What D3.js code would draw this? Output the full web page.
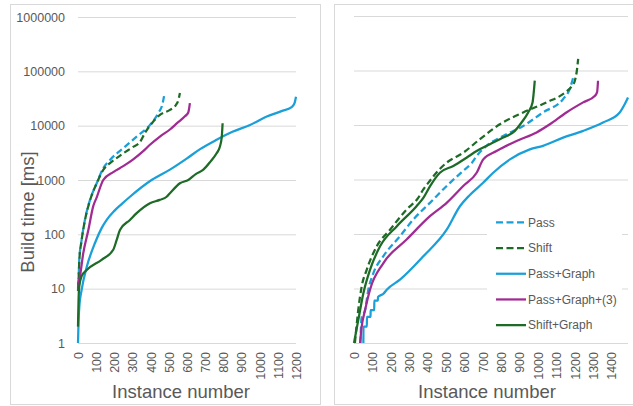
<!DOCTYPE html>
<html>
<head>
<meta charset="utf-8">
<script src="https://cdn.jsdelivr.net/npm/d3@7"></script>
<style>
  body { margin: 0; background: #fff; }
  svg { display: block; font-family: "Liberation Sans", Arial, sans-serif; }
</style>
</head>
<body>
<div id="chart"></div>
<script>
// Data: [instance number, build time ms]
var seriesNames = ["Pass", "Shift", "Pass+Graph", "Pass+Graph+(3)", "Shift+Graph"];

var leftPass = [[0,12],[3,15],[7,34],[20,79],[38,184],[66,430],[103,870],[139,1650],[176,2340],
    [249,3850],[323,6300],[396,10300],[442,17000],[465,25000],[475,37000]];
var leftShift = [[0,10],[3,14],[7,32],[20,78],[38,180],[66,420],[103,870],[139,1530],[176,2040],
    [210,2500],[249,3100],[300,4000],[341,5000],[370,7500],[407,11100],[451,15800],[506,19500],
    [539,24000],[553,30000],[561,40000]];
var leftPassGraph = [[0,1],[3,2.5],[8,5],[20,9.5],[48,25],[94,70],[130,130],[158,185],[200,270],
    [240,360],[286,492],[405,1000],[506,1550],[600,2500],[672,3700],[763,5500],[850,7700],
    [947,10300],[1039,14700],[1120,18500],[1176,22000],[1192,26000],[1200,34000]];
var leftPassGraph3 = [[0,9],[2,12],[11,17],[29,45],[57,120],[84,330],[103,480],[139,1000],
    [194,1400],[249,1800],[304,2400],[359,3400],[396,4450],[451,6300],[506,8500],[545,11100],
    [590,15000],[607,17500],[616,26000]];
var leftShiftGraph = [[0,2],[3,6],[7,11],[20,17],[48,22],[130,34],[194,52],[213,79],[231,120],
    [286,184],[323,245],[396,373],[450,430],[488,492],[506,570],[561,870],[607,1000],[650,1300],
    [690,1550],[730,2200],[763,3100],[780,4000],[791,6000],[796,11100]];

var rightPass = [[35,1],[38,2],[42,3],[60,4],[78,9.5],[105,19],[159,39],[250,91],[322,184],
    [413,373],[504,760],[594,1450],[640,2000],[667,2700],[721,4150],[811,6300],[920,9600],
    [1028,17000],[1137,29900],[1173,45700],[1191,72000]];
var rightShift = [[5,1],[23,4],[42,11],[69,22],[123,59],[196,120],[286,282],[349,460],[377,660],
    [413,950],[449,1350],[504,2040],[594,3100],[685,5500],[793,10300],[920,17000],
    [1047,26000],[1150,40000],[1185,52000],[1201,65000],[1212,100000],[1219,163000]];
var rightPassGraph = [[51,1],[51.5,2],[70,2],[70.5,3],[90,3],[90.5,4],[110,4],[110.5,6],[130,6],
    [130.5,7],[160,8],[178,9.5],[250,14.5],[377,39],[504,120],[576,323],[630,520],[702,870],
    [757,1330],[848,2340],[956,3570],[1028,4150],[1137,5870],[1246,7800],[1354,11100],
    [1445,17000],[1472,24000],[1490,32000]];
var rightPassGraph3 = [[33,1],[42,2],[60,4],[87,9.5],[159,29],[286,79],[413,212],[504,373],
    [594,760],[667,1330],[703,2340],[775,3330],[884,5100],[993,7300],[1065,10300],[1155,17000],
    [1246,26000],[1309,34000],[1322,40000],[1327,65000]];
var rightShiftGraph = [[0,1],[23,2.6],[51,8.2],[87,22],[141,59],[232,138],[340,323],[377,460],
    [413,750],[467,1330],[540,1770],[612,2510],[667,3330],[739,4450],[811,5870],[875,7800],
    [911,11100],[947,17000],[971,26000],[983,65000]];

var yTicks = [1, 10, 100, 1000, 10000, 100000, 1000000];
var leftXTicks = [0,100,200,300,400,500,600,700,800,900,1000,1100,1200];
var rightXTicks = [0,100,200,300,400,500,600,700,800,900,1000,1100,1200,1300,1400];

// styles per series (same order as seriesNames)
var seriesColors = ["#1a9fd8", "#1d6b26", "#1a9fd8", "#a02b93", "#1d6b26"];
var seriesDashed = [true, true, false, false, false];

var width = 633, height = 406;
var textColor = "#595959", gridColor = "#d9d9d9";

var svg = d3.select("#chart").append("svg")
    .attr("width", width)
    .attr("height", height);

function draw_panel(opt) {
    var x = d3.scaleLinear().domain([0, opt.xMax]).range([opt.x0, opt.x1]);
    var y = d3.scaleLog().domain([1, 1000000]).range([343, opt.yTop]);

    // panel border
    svg.append("rect")
	.attr("x", opt.bx).attr("y", 4.5)
	.attr("width", opt.bw).attr("height", 400)
	.attr("fill", "#fff")
	.attr("stroke", gridColor)
	.attr("stroke-width", 1);

    // gridlines
    var grid = svg.append("g")
	.attr("transform", "translate(" + opt.x0 + ",0)")
	.call(d3.axisRight(y).tickValues(yTicks).tickSize(opt.x1 - opt.x0).tickFormat(""));
    grid.select(".domain").remove();
    grid.selectAll("line").attr("stroke", gridColor).attr("stroke-width", 1);

    // y labels
    if (opt.yLabels) {
	var ya = svg.append("g")
	    .attr("transform", "translate(" + opt.x0 + ",0)")
	    .call(d3.axisLeft(y).tickValues(yTicks).tickFormat(d3.format("d")).tickSize(0).tickPadding(13));
	ya.select(".domain").remove();
	ya.selectAll("text")
	    .attr("fill", textColor)
	    .style("font-size", "12.5px")
	    .style("font-family", "'Liberation Sans', Arial, sans-serif");

	svg.append("text")
	    .attr("transform", "translate(33.5,212) rotate(-90)")
	    .attr("text-anchor", "middle")
	    .attr("fill", textColor)
	    .style("font-size", "18.5px")
	    .text("Build time [ms]");
    }

    // x labels
    var xa = svg.append("g")
	.attr("transform", "translate(0,343)")
	.call(d3.axisBottom(x).tickValues(opt.xTicks).tickFormat(d3.format("d")).tickSize(0));
    xa.select(".domain").remove();
    xa.selectAll("text")
	.attr("transform", "rotate(-90)")
	.attr("text-anchor", "end")
	.attr("x", -9)
	.attr("y", 0)
	.attr("dy", "0.35em")
	.attr("fill", textColor)
	.style("font-size", "12.5px")
	.style("font-family", "'Liberation Sans', Arial, sans-serif");

    svg.append("text")
	.attr("x", opt.titleX)
	.attr("y", 397.5)
	.attr("text-anchor", "middle")
	.attr("fill", textColor)
	.style("font-size", "18.5px")
	.text("Instance number");

    // lines
    var line = d3.line()
	.curve(d3.curveMonotoneX)
	.x(d => x(d[0]))
	.y(d => y(d[1]));

    opt.series.forEach(function(s, i) {
	svg.append("path")
	    .datum(s)
	    .attr("d", line)
	    .attr("fill", "none")
	    .attr("stroke", seriesColors[i])
	    .attr("stroke-width", 2.25)
	    .attr("stroke-linejoin", "round")
	    .attr("stroke-dasharray", seriesDashed[i] ? "6.5,3.5" : null);
    });
}

draw_panel({
    bx: 10.5, bw: 310, x0: 78, x1: 296, xMax: 1200, yTop: 17,
    xTicks: leftXTicks, yLabels: true, titleX: 181,
    series: [leftPass, leftShift, leftPassGraph, leftPassGraph3, leftShiftGraph]
});

draw_panel({
    bx: 334.5, bw: 320, x0: 354, x1: 628, xMax: 1490, yTop: 16,
    xTicks: rightXTicks, yLabels: false, titleX: 487,
    series: [rightPass, rightShift, rightPassGraph, rightPassGraph3, rightShiftGraph]
});

// legend (right panel)
var legend = svg.append("g");
legend.append("rect")
    .attr("x", 487).attr("y", 210)
    .attr("width", 135).attr("height", 126)
    .attr("fill", "#fff");

var rowY = d3.scaleBand().domain(seriesNames).range([209.5, 338]);

var rows = legend.selectAll("g.row")
    .data(seriesNames)
    .enter()
    .append("g")
    .attr("class", "row")
    .attr("transform", d => "translate(0," + (rowY(d) + rowY.bandwidth() / 2) + ")");

rows.append("line")
    .attr("x1", 496).attr("x2", 526)
    .attr("y1", 0).attr("y2", 0)
    .attr("stroke", (d, i) => seriesColors[i])
    .attr("stroke-width", 2.25)
    .attr("stroke-dasharray", (d, i) => seriesDashed[i] ? "7,3.5" : null);

rows.append("text")
    .attr("x", 528)
    .attr("dy", "0.35em")
    .attr("fill", textColor)
    .style("font-size", "12px")
    .text(d => d);
</script>
</body>
</html>
